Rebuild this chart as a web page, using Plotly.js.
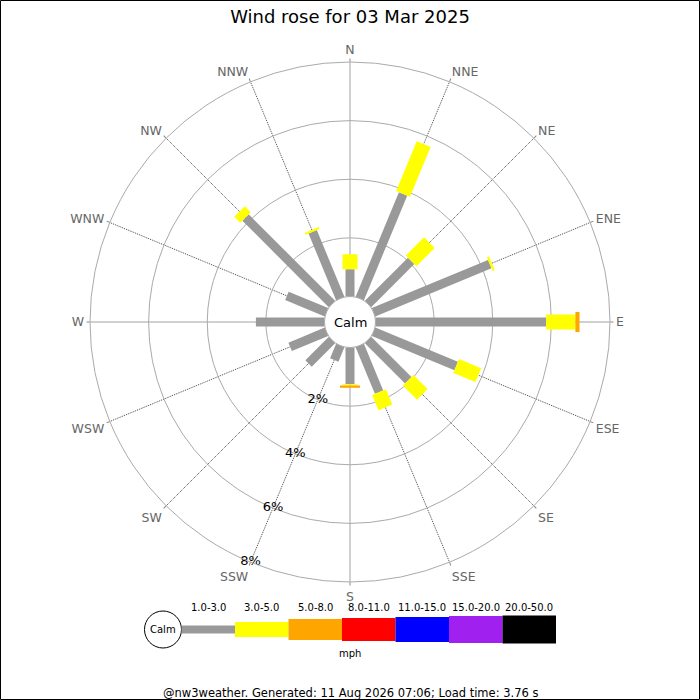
<!DOCTYPE html>
<html><head><meta charset="utf-8">
<script src="https://cdn.plot.ly/plotly-3.0.1.min.js"></script>
<style>html,body{margin:0;padding:0;background:#fff}#chart{width:700px;height:700px}</style>
</head><body><div id="chart"></div>
<script>
// ---- data ----
const directions = ['N','NNE','NE','ENE','E','ESE','SE','SSE','S','SSW','SW','WSW','W','WNW','NW','NNW'];
// percentage of time per direction and speed bin (mph)
const speed_1_3 = [0.93,3.86,2.08,4.29,5.82,3.05,1.94,1.72,1.25,0.53,1.13,1.34,2.34,1.46,4.17,2.46];
const speed_3_5 = [0.51,1.84,0.88,0.08,1.00,0.82,0.68,0.56,0.05,0,0,0,0,0,0.29,0.07];
const speed_5_8 = [0,0,0,0,0.14,0,0,0,0.07,0,0,0,0,0,0,0];
const speedBins = ['1.0-3.0','3.0-5.0','5.0-8.0','8.0-11.0','11.0-15.0','15.0-20.0','20.0-50.0'];
const binColors = ['#999999','#ffff00','#ffa500','#ff0000','#0000ff','#a020f0','#000000'];
const radialTicks = [2,4,6,8];
const radialTickText = ['2%','4%','6%','8%'];
const radialLabelDirection = 'SSW';
const titleText = 'Wind rose for 03 Mar 2025';
const footerText = '@nw3weather. Generated: 11 Aug 2026 07:06; Load time: 3.76 s';
const unitText = 'mph';
const calmText = 'Calm';

// ---- styles ----
const FONT = 'DejaVu Sans, sans-serif';
const binWidths = [9,15,20,23,25,27,28];
const legendHeights = [8,15,21,23,25,27,28];

const series = [speed_1_3, speed_3_5, speed_5_8];
const traces = [];
const cum = directions.map(() => 0);
series.forEach((vals, b) => {
  const r = [], th = [];
  vals.forEach((v, i) => {
    if (v > 0) {
      r.push(cum[i], cum[i] + v, null);
      th.push(directions[i], directions[i], null);
      cum[i] += v;
    }
  });
  traces.push({
    type: 'scatterpolar', mode: 'lines', r: r, theta: th,
    line: {color: binColors[b], width: binWidths[b]},
    connectgaps: false, hoverinfo: 'skip', showlegend: false
  });
});
// radial percentage labels, centred on the ring / SSW spoke crossing
traces.push({
  type: 'scatterpolar', mode: 'text', r: radialTicks,
  theta: radialTicks.map(() => radialLabelDirection),
  text: radialTickText, textposition: 'middle center',
  textfont: {family: FONT, size: 13, color: '#000'},
  hoverinfo: 'skip', showlegend: false, cliponaxis: false
});

const W = 700, H = 700;
const px = x => x / W, py = y => 1 - y / H;
const shapes = [];
const annotations = [];

// border
shapes.push({type:'rect', xref:'paper', yref:'paper', x0:px(0.5), x1:px(699.5), y0:py(699.5), y1:py(0.5), line:{color:'#000', width:1}});

// legend
const legCY = 629.5;
shapes.push({type:'circle', xref:'paper', yref:'paper', x0:px(144.5), x1:px(181.5), y0:py(648), y1:py(611), line:{color:'#000', width:1}, fillcolor:'#fff'});
annotations.push({xref:'paper', yref:'paper', x:px(163), y:py(legCY), text:calmText, showarrow:false, font:{family:FONT, size:10, color:'#000'}, xanchor:'center', yanchor:'middle'});
const legX0 = 181.5, legStep = 53.5;
speedBins.forEach((lab, i) => {
  const x0 = legX0 + i * legStep, x1 = x0 + legStep, h = legendHeights[i];
  shapes.push({type:'rect', xref:'paper', yref:'paper', x0:px(x0), x1:px(x1), y0:py(legCY + h/2), y1:py(legCY - h/2), line:{width:0}, fillcolor:binColors[i]});
  annotations.push({xref:'paper', yref:'paper', x:px((x0+x1)/2), y:py(607), text:lab, showarrow:false, font:{family:FONT, size:10, color:'#000'}, xanchor:'center', yanchor:'middle'});
});
annotations.push({xref:'paper', yref:'paper', x:px(350.5), y:py(653.5), text:unitText, showarrow:false, font:{family:FONT, size:10, color:'#000'}, xanchor:'center', yanchor:'middle'});
annotations.push({xref:'paper', yref:'paper', x:px(350), y:py(692.5), text:footerText, showarrow:false, font:{family:FONT, size:11.5, color:'#000'}, xanchor:'center', yanchor:'middle'});
annotations.push({xref:'paper', yref:'paper', x:px(350), y:py(322), text:calmText, showarrow:false, font:{family:FONT, size:13, color:'#000'}, xanchor:'center', yanchor:'middle'});

const CX = 350, CY = 322, R = 260;
const layout = {
  width: W, height: H,
  margin: {l:0, r:0, t:0, b:0},
  paper_bgcolor: '#fff',
  font: {family: FONT},
  title: {text: titleText, x:0.5, xanchor:'center', y: py(17), yanchor:'middle', yref:'container', font:{family:FONT, size:18, color:'#000'}},
  polar: {
    domain: {x:[px(CX-R), px(CX+R)], y:[py(CY+R), py(CY-R)]},
    bgcolor: '#fff',
    hole: 25.5 / R,
    angularaxis: {
      type: 'category', categoryarray: directions, rotation: 90, direction: 'clockwise',
      showline: true, linecolor: '#aaaaaa', linewidth: 1,
      showgrid: true, gridcolor: '#444444', gridwidth: 1, griddash: '1px,1px',
      ticks: 'outside', ticklen: 3, tickcolor: '#888888', tickwidth: 1,
      tickfont: {family:FONT, size:12.5, color:'#666666'}
    },
    radialaxis: {
      range: [0, 8], tickvals: radialTicks, angle: 247.5,
      showline: false, ticks: '', showticklabels: false,
      gridcolor: '#aaaaaa', gridwidth: 1
    }
  },
  shapes: shapes,
  annotations: annotations,
  showlegend: false
};
Plotly.newPlot('chart', traces, layout, {displayModeBar:false, staticPlot:true});
</script></body></html>
